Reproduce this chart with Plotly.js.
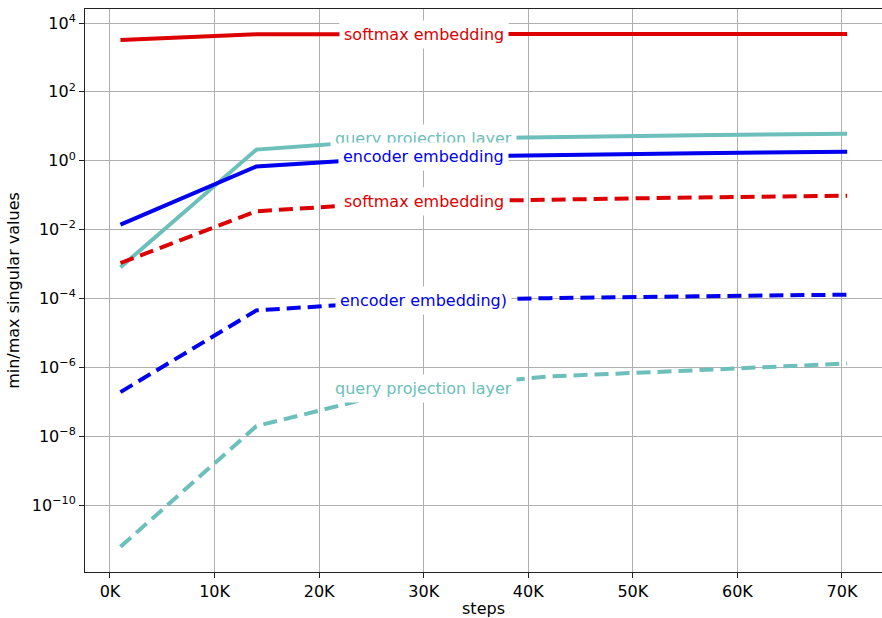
<!DOCTYPE html>
<html>
<head>
<meta charset="utf-8">
<script src="https://cdn.plot.ly/plotly-3.0.1.min.js"></script>
<style>html,body{margin:0;padding:0;background:#fff;}#chart{width:882px;height:618px;}</style>
</head>
<body>
<div id="chart"></div>
<script>
// checkpoints (steps)
const steps = [1000, 14000, 28000, 42000, 56000, 70500];

// max/ratio series (solid) and min/max series (dashed)
const softmaxSolid   = [3200, 4700, 4750, 4800, 4800, 4800];
const querySolid     = [8e-4, 2.1, 4.27, 5.0, 5.5, 6.1];
const encoderSolid   = [0.014, 0.68, 1.26, 1.48, 1.66, 1.82];
const softmaxDashed  = [1.07e-3, 0.034, 0.063, 0.076, 0.086, 0.096];
const encoderDashed  = [1.9e-7, 4.5e-5, 8.3e-5, 1.02e-4, 1.15e-4, 1.29e-4];
const queryDashed    = [6.1e-12, 1.95e-8, 2.2e-7, 5.4e-7, 8.2e-7, 1.29e-6];

const xTickVals = [0, 10000, 20000, 30000, 40000, 50000, 60000, 70000];
const xTickText = ['0K', '10K', '20K', '30K', '40K', '50K', '60K', '70K'];
const yTickVals = [1e4, 1e2, 1, 1e-2, 1e-4, 1e-6, 1e-8, 1e-10];
const yTickText = ['10<sup>4</sup>', '10<sup>2</sup>', '10<sup>0</sup>', '10<sup>−2</sup>',
                   '10<sup>−4</sup>', '10<sup>−6</sup>', '10<sup>−8</sup>', '10<sup>−10</sup>'];

const RED = '#dd0000', BLUE = '#0000ee', CYAN = '#6cbfbb';
const DASH = '14px,7px';

const series = [
  {name: 'softmax embedding',     y: softmaxSolid,  color: RED,  dash: 'solid'},
  {name: 'query projection layer', y: querySolid,   color: CYAN, dash: 'solid'},
  {name: 'encoder embedding',     y: encoderSolid,  color: BLUE, dash: 'solid'},
  {name: 'softmax embedding',     y: softmaxDashed, color: RED,  dash: DASH},
  {name: 'encoder embedding)',    y: encoderDashed, color: BLUE, dash: DASH},
  {name: 'query projection layer', y: queryDashed,  color: CYAN, dash: DASH}
];

const traces = series.map(s => ({
  x: steps, y: s.y, type: 'scatter', mode: 'lines', name: s.name,
  line: {color: s.color, width: 4, dash: s.dash},
  hoverinfo: 'skip'
}));

// inline labels at x = 30K, placed at the line's (log-interpolated) value
const labelX = 30000;
function logInterp(xs, ys, x) {
  for (let i = 0; i < xs.length - 1; i++) {
    if (x >= xs[i] && x <= xs[i + 1]) {
      const t = (x - xs[i]) / (xs[i + 1] - xs[i]);
      return Math.log10(ys[i]) * (1 - t) + Math.log10(ys[i + 1]) * t;
    }
  }
  return Math.log10(ys[ys.length - 1]);
}
const annotations = series.map(s => ({
  x: labelX, y: logInterp(steps, s.y, labelX), xref: 'x', yref: 'y',
  text: s.name, showarrow: false, xanchor: 'center', yanchor: 'middle',
  font: {family: 'DejaVu Sans', size: 16, color: s.color},
  bgcolor: '#ffffff', borderpad: 4
}));

const layout = {
  width: 882, height: 618,
  margin: {l: 85, r: 0, t: 9, b: 46},
  paper_bgcolor: '#ffffff', plot_bgcolor: '#ffffff',
  showlegend: false,
  font: {family: 'DejaVu Sans', size: 16, color: '#000'},
  xaxis: {
    range: [-2390, 73830],
    tickvals: xTickVals, ticktext: xTickText,
    showgrid: true, gridcolor: '#b0b0b0', gridwidth: 1,
    zeroline: false,
    showline: true, linecolor: '#222', linewidth: 1, mirror: true,
    ticks: 'outside', ticklen: 5, tickcolor: '#222',
    tickfont: {family: 'DejaVu Sans', size: 16, color: '#000'},
    title: {text: 'steps', font: {family: 'DejaVu Sans', size: 16, color: '#000'}, standoff: 6}
  },
  yaxis: {
    type: 'log',
    range: [-11.946, 4.407],
    tickvals: yTickVals, ticktext: yTickText,
    showgrid: true, gridcolor: '#b0b0b0', gridwidth: 1,
    zeroline: false,
    showline: true, linecolor: '#222', linewidth: 1, mirror: false,
    ticks: 'outside', ticklen: 5, tickcolor: '#222',
    tickfont: {family: 'DejaVu Sans', size: 16, color: '#000'},
    title: {text: 'min/max singular values', font: {family: 'DejaVu Sans', size: 16, color: '#000'}, standoff: 8}
  },
  annotations: annotations
};

Plotly.newPlot('chart', traces, layout, {displayModeBar: false, staticPlot: true});
</script>
</body>
</html>
